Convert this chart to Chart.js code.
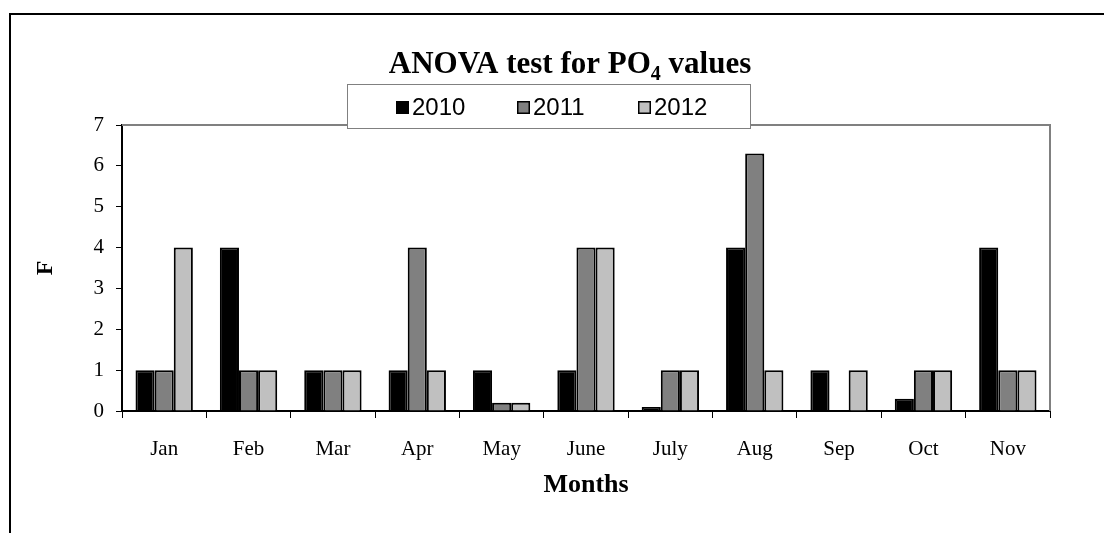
<!DOCTYPE html>
<html>
<head>
<meta charset="utf-8">
<script src="https://cdn.jsdelivr.net/npm/chart.js@4.4.1/dist/chart.umd.min.js"></script>
<style>
  body { margin: 0; background: #fff; }
  #wrap { width: 1104px; height: 533px; }
</style>
</head>
<body>
<div id="wrap"><canvas id="myChart" width="1104" height="533"></canvas></div>
<script>
var months = ['Jan', 'Feb', 'Mar', 'Apr', 'May', 'June', 'July', 'Aug', 'Sep', 'Oct', 'Nov'];
var years = ['2010', '2011', '2012'];
var f2010 = [1, 4, 1, 1, 1, 1, 0.1, 4, 1, 0.3, 4];
var f2011 = [1, 1, 1, 4, 0.2, 4, 1, 6.3, null, 1, 1];
var f2012 = [4, 1, 1, 1, 0.2, 4, 1, 1, 1, 1, 1];
var yTicks = [0, 1, 2, 3, 4, 5, 6, 7];
var colors = ['#000000', '#808080', '#c0c0c0'];

var serif = "'Liberation Serif', 'Times New Roman', serif";
var sans = "'Liberation Sans', Arial, sans-serif";

// outer frame, plot border (top/right grey), title with subscript, legend box
var decor = {
  id: 'decor',
  beforeDraw: function(chart) {
    var ctx = chart.ctx;
    ctx.save();
    ctx.fillStyle = '#fff';
    ctx.fillRect(0, 0, chart.width, chart.height);
    ctx.strokeStyle = '#000';
    ctx.lineWidth = 2;
    ctx.beginPath();
    ctx.moveTo(10, chart.height + 5);
    ctx.lineTo(10, 14);
    ctx.lineTo(chart.width + 5, 14);
    ctx.stroke();
    ctx.restore();
  },
  afterDatasetsDraw: function(chart) {
    var ctx = chart.ctx;
    var a = chart.chartArea;
    ctx.save();
    ctx.strokeStyle = '#808080';
    ctx.lineWidth = 2;
    ctx.beginPath();
    ctx.moveTo(a.left, a.top);
    ctx.lineTo(a.right, a.top);
    ctx.lineTo(a.right, a.bottom);
    ctx.stroke();
    ctx.restore();
  },
  afterDraw: function(chart) {
    var ctx = chart.ctx;
    ctx.save();
    // title
    var big = 'bold 31px ' + serif;
    var small = 'bold 20px ' + serif;
    var p1 = 'ANOVA test for PO', p2 = '4', p3 = ' values';
    ctx.font = big;
    var w1 = ctx.measureText(p1).width, w3 = ctx.measureText(p3).width;
    ctx.font = small;
    var w2 = ctx.measureText(p2).width;
    var x = 570 - (w1 + w2 + w3) / 2, y = 73;
    ctx.fillStyle = '#000';
    ctx.textBaseline = 'alphabetic';
    ctx.textAlign = 'left';
    ctx.font = big;
    ctx.fillText(p1, x, y);
    ctx.font = small;
    ctx.fillText(p2, x + w1, y + 7);
    ctx.font = big;
    ctx.fillText(p3, x + w1 + w2, y);

    // legend
    var bx = 347, by = 84, bw = 403, bh = 44;
    ctx.fillStyle = '#fff';
    ctx.fillRect(bx, by, bw, bh);
    ctx.strokeStyle = '#808080';
    ctx.lineWidth = 1;
    ctx.strokeRect(bx + 0.5, by + 0.5, bw, bh);
    var itemX = [396, 517, 638];
    ctx.font = '24px ' + sans;
    ctx.textBaseline = 'middle';
    chart.data.datasets.forEach(function(ds, i) {
      ctx.fillStyle = ds.backgroundColor;
      ctx.fillRect(itemX[i], 101, 13, 13);
      ctx.strokeStyle = '#000';
      ctx.lineWidth = 1.5;
      ctx.strokeRect(itemX[i] + 0.75, 101.75, 11.5, 11.5);
      ctx.fillStyle = '#000';
      ctx.fillText(ds.label, itemX[i] + 16, 108);
    });
    ctx.restore();
  }
};

var ctx = document.getElementById('myChart').getContext('2d');
var myChart = new Chart(ctx, {
  type: 'bar',
  data: {
    labels: months,
    datasets: [
      { label: years[0], data: f2010, backgroundColor: colors[0] },
      { label: years[1], data: f2011, backgroundColor: colors[1] },
      { label: years[2], data: f2012, backgroundColor: colors[2] }
    ]
  },
  options: {
    responsive: false,
    animation: false,
    events: [],
    layout: { padding: { left: 10, top: 125, right: 54, bottom: 32 } },
    datasets: {
      bar: {
        borderColor: '#000',
        borderWidth: 2,
        categoryPercentage: 0.68,
        barPercentage: 1
      }
    },
    plugins: {
      legend: { display: false },
      title: { display: false },
      tooltip: { enabled: false }
    },
    scales: {
      x: {
        afterFit: function(s) { s.height = 90; },
        grid: {
          offset: true,
          drawOnChartArea: false,
          drawTicks: true,
          tickLength: 7,
          color: '#000',
          lineWidth: 1
        },
        border: { color: '#000', width: 2 },
        ticks: {
          color: '#000',
          padding: 19,
          font: { family: serif, size: 21 },
          maxRotation: 0
        },
        title: {
          display: true,
          text: 'Months',
          color: '#000',
          padding: { top: 0, bottom: 0 },
          font: { family: serif, size: 26, weight: 'bold' }
        }
      },
      y: {
        min: 0,
        max: 7,
        afterFit: function(s) { s.width = 112; },
        afterBuildTicks: function(s) {
          s.ticks = yTicks.map(function(v) { return { value: v }; });
        },
        grid: {
          drawOnChartArea: false,
          drawTicks: true,
          tickLength: 6,
          color: '#000',
          lineWidth: 1
        },
        border: { color: '#000', width: 2 },
        ticks: {
          color: '#000',
          padding: 12,
          font: { family: serif, size: 21 }
        },
        title: {
          display: true,
          text: 'F',
          color: '#000',
          padding: { top: 21, bottom: 0 },
          font: { family: serif, size: 24, weight: 'bold' }
        }
      }
    }
  },
  plugins: [decor]
});
</script>
</body>
</html>
